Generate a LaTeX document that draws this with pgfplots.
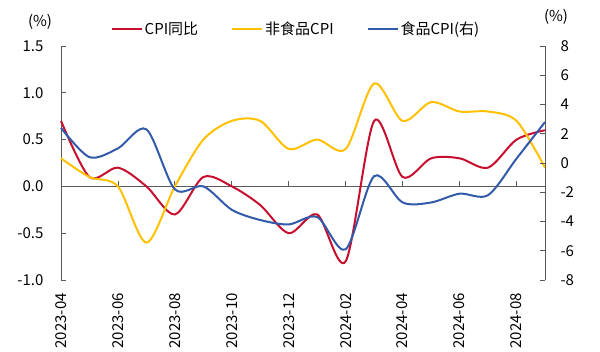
\documentclass[border=0pt]{standalone}
\usepackage{fontspec}
\setmainfont{Noto Sans CJK SC}
\usepackage{pgfplots}
\pgfplotsset{compat=1.18}
\definecolor{cred}{RGB}{200,16,46}
\definecolor{cyel}{RGB}{255,192,0}
\definecolor{cblue}{RGB}{50,90,170}
\definecolor{cax}{RGB}{90,90,90}

\pgfplotstableread{
i cpi nonfood food
0  0.7  0.3  2.4
1  0.1  0.1  0.4
2  0.2  0.0  1.0
3  0.0 -0.6  2.3
4 -0.3  0.0 -1.8
5  0.1  0.5 -1.6
6  0.0  0.7 -3.2
7 -0.2  0.7 -3.9
8 -0.5  0.4 -4.2
9 -0.3  0.5 -3.7
10 -0.8  0.4 -5.9
11  0.7  1.1 -0.9
12  0.1  0.7 -2.7
13  0.3  0.9 -2.7
14  0.3  0.8 -2.1
15  0.2  0.8 -2.2
16  0.5  0.7  0.3
17  0.6  0.2  2.8
}\datatab

\begin{document}
\begin{tikzpicture}
\useasboundingbox (-61pt,-72pt) rectangle (539pt,280pt);
\pgfplotsset{
  base/.style={
    scale only axis, width=484pt, height=234pt,
    xmin=0, xmax=17,
    /pgf/number format/assume math mode=true,
    tick label style={font=\fontsize{15}{15}\selectfont},
    axis line style={draw=cax, line width=0.8pt},
    major tick length=5pt,
    tick align=inside,
    clip=false,
  }
}
\begin{axis}[base,
  ymin=-1, ymax=1.5,
  ytick={-1,-0.5,0,0.5,1,1.5},
  axis y line*=left,
  axis x line*=bottom,
  x axis line style={draw=none},
  xtick={0,2,...,16},
  xticklabels={2023-04,2023-06,2023-08,2023-10,2023-12,2024-02,2024-04,2024-06,2024-08},
  xtick style={draw=none},
  ytick style={draw=cax, line width=0.8pt},
  x tick label style={rotate=90, anchor=east, inner xsep=13pt},
  yticklabel style={/pgf/number format/.cd, fixed, fixed zerofill, precision=1, /tikz/.cd, xshift=-14pt},
  legend columns=3,
  legend style={at={(235pt,251pt)}, anchor=center, draw=none, fill=none,
    font=\fontsize{15}{15}\selectfont,
    /tikz/every even column/.append style={column sep=31pt}},
  legend image code/.code={\draw[#1] (0pt,0pt) -- (30pt,0pt);},
]
\draw[cax, line width=0.8pt] (axis cs:0,0) -- (axis cs:17,0);
\pgfplotsinvokeforeach{2,4,...,16}{\draw[cax, line width=0.8pt] (axis cs:#1,0) -- ([yshift=5pt]axis cs:#1,0);}
\addplot[cred, line width=2pt, smooth, tension=0.5] table[x=i, y=cpi] {\datatab};
\addlegendentry{CPI同比}
\addplot[cyel, line width=2pt, smooth, tension=0.5] table[x=i, y=nonfood] {\datatab};
\addlegendentry{非食品CPI}
\addlegendimage{cblue, line width=2pt}
\addlegendentry{食品CPI(右)}
\end{axis}
\begin{axis}[base,
  ymin=-8, ymax=8,
  ytick={-8,-6,...,8},
  axis y line*=right,
  axis x line=none,
  ytick style={draw=cax, line width=0.8pt},
  yticklabel style={xshift=12pt},
]
\addplot[cblue, line width=2pt, smooth, tension=0.5] table[x=i, y=food] {\datatab};
\end{axis}
\node[font=\fontsize{15}{15}\selectfont] at (-21pt,258pt) {(\%)};
\node[font=\fontsize{15}{15}\selectfont] at (495pt,263pt) {(\%)};
\end{tikzpicture}
\end{document}
